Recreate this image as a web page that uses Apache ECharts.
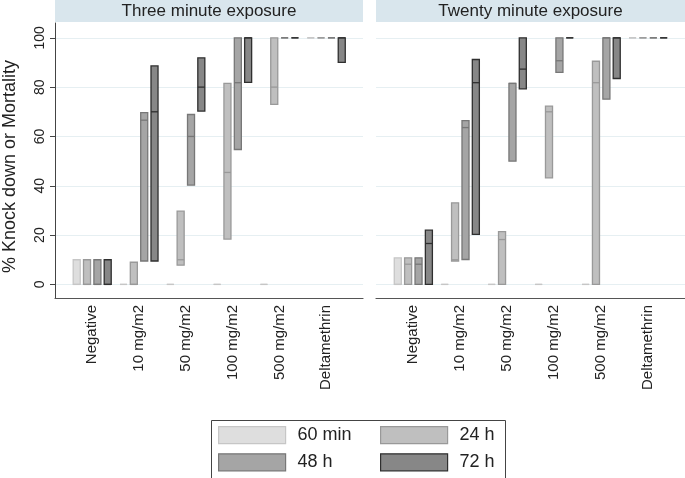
<!DOCTYPE html>
<html>
<head>
<meta charset="utf-8">
<script src="https://cdn.jsdelivr.net/npm/echarts@6/dist/echarts.min.js"></script>
<style>html,body{margin:0;padding:0;background:#fff;}#c{width:685px;height:478px;}</style>
</head>
<body>
<div id="c"></div>
<script>
const categories = ['Negative', '10 mg/m2', '50 mg/m2', '100 mg/m2', '500 mg/m2', 'Deltamethrin'];
const seriesNames = ['60 min', '24 h', '48 h', '72 h'];
const panelTitles = ['Three minute exposure', 'Twenty minute exposure'];
const yTicks = [0, 20, 40, 60, 80, 100];

// Three minute exposure: low / median / high per category
const three_60min_low  = [0, 0, 0, 0, 0, 100];
const three_60min_med  = [0, 0, 0, 0, 0, 100];
const three_60min_high = [10, 0, 0, 0, 0, 100];
const three_24h_low  = [0, 0, 7.8, 18.4, 73, 100];
const three_24h_med  = [0, 0, 10, 45.4, 80, 100];
const three_24h_high = [10, 9, 29.7, 81.5, 100, 100];
const three_48h_low  = [0, 9.5, 40.3, 54.7, 100, 100];
const three_48h_med  = [0, 66.6, 60, 81.8, 100, 100];
const three_48h_high = [10, 69.7, 68.9, 100, 100, 100];
const three_72h_low  = [0, 9.5, 70.3, 81.9, 100, 90];
const three_72h_med  = [0, 70, 80, 100, 100, 100];
const three_72h_high = [10, 88.6, 91.9, 100, 100, 100];

// Twenty minute exposure
const twenty_60min_low  = [0, 0, 0, 0, 0, 100];
const twenty_60min_med  = [0, 0, 0, 0, 0, 100];
const twenty_60min_high = [10.8, 0, 0, 0, 0, 100];
const twenty_24h_low  = [0, 9.5, 0, 43.2, 0, 100];
const twenty_24h_med  = [8.2, 10, 18.2, 70, 81.8, 100];
const twenty_24h_high = [10.8, 33.1, 21.4, 72.3, 90.5, 100];
const twenty_48h_low  = [0, 10.1, 50, 86, 75.1, 100];
const twenty_48h_med  = [8.2, 63.6, 81.5, 90.7, 100, 100];
const twenty_48h_high = [10.8, 66.4, 81.5, 100, 100, 100];
const twenty_72h_low  = [0, 20.3, 79.3, 100, 83.5, 100];
const twenty_72h_med  = [16.6, 81.8, 87.3, 100, 100, 100];
const twenty_72h_high = [22, 91.2, 100, 100, 100, 100];

const panels = [
  [[three_60min_low, three_60min_med, three_60min_high],
   [three_24h_low, three_24h_med, three_24h_high],
   [three_48h_low, three_48h_med, three_48h_high],
   [three_72h_low, three_72h_med, three_72h_high]],
  [[twenty_60min_low, twenty_60min_med, twenty_60min_high],
   [twenty_24h_low, twenty_24h_med, twenty_24h_high],
   [twenty_48h_low, twenty_48h_med, twenty_48h_high],
   [twenty_72h_low, twenty_72h_med, twenty_72h_high]]
];

// styles
const fills   = ['#dedede', '#bfbfbf', '#a5a5a5', '#878787'];
const strokes = ['#c6c6c6', '#999999', '#777777', '#2f2f2f'];
const offsets = [-0.331, -0.111, 0.111, 0.331];
const barW = 0.15;
const FONT = 'Liberation Sans, Arial, sans-serif';

function makeRender(k) {
  return function (params, api) {
    const x = api.value(0) + offsets[k];
    const lo = api.coord([x, api.value(1)]);
    const md = api.coord([x, api.value(2)]);
    const hi = api.coord([x, api.value(3)]);
    const w = api.size([barW, 0])[0];
    return {
      type: 'group',
      children: [
        { type: 'rect', shape: { x: lo[0] - w / 2, y: hi[1], width: w, height: lo[1] - hi[1] },
          style: { fill: fills[k], stroke: strokes[k], lineWidth: 1.3 } },
        { type: 'line', shape: { x1: lo[0] - w / 2, y1: md[1], x2: lo[0] + w / 2, y2: md[1] },
          style: { stroke: strokes[k], lineWidth: 1.3 } }
      ]
    };
  };
}

const series = [];
panels.forEach((panel, p) => {
  panel.forEach((arr, k) => {
    const data = categories.map((c, i) => [i + 1, arr[0][i], arr[1][i], arr[2][i]]);
    series.push({
      type: 'custom', name: seriesNames[k], xAxisIndex: p, yAxisIndex: p,
      renderItem: makeRender(k), data: data,
      encode: { x: 0, y: [1, 3] },
      itemStyle: { color: fills[k], borderColor: strokes[k] },
      silent: true
    });
  });
});

const grids = [
  { left: 55, width: 308, top: 23, height: 275 },
  { left: 376, width: 309, top: 23, height: 275 }
];

const xAxes = grids.map((g, p) => ({
  type: 'value', gridIndex: p, min: 0.205, max: 6.785,
  axisLine: { show: true, onZero: false, lineStyle: { color: '#555', width: 1.2 } },
  axisTick: { show: false },
  splitLine: { show: false },
  axisLabel: {
    customValues: [1, 2, 3, 4, 5, 6],
    formatter: v => categories[Math.round(v) - 1],
    rotate: 90, fontSize: 15, color: '#222', margin: 7, fontFamily: FONT
  }
}));

const yAxes = grids.map((g, p) => ({
  type: 'value', gridIndex: p, min: -5.5, max: 106,
  name: p === 0 ? '% Knock down or Mortality' : '',
  nameLocation: 'middle', nameGap: 36,
  nameTextStyle: { fontSize: 18, color: '#222', fontFamily: FONT, padding: [0, 12, 0, 0] },
  axisLine: { show: p === 0, lineStyle: { color: '#444' } },
  axisTick: { show: p === 0, customValues: yTicks, length: 5, lineStyle: { color: '#444' } },
  axisLabel: { show: p === 0, customValues: yTicks, rotate: 90, fontSize: 14, color: '#222', margin: 8, fontFamily: FONT },
  splitLine: { show: true, lineStyle: { color: '#e6eff2', width: 1 } }
}));

const legendItem = k => ({ name: seriesNames[k], icon: 'rect',
  itemStyle: { color: fills[k], borderColor: strokes[k], borderWidth: 1.2 } });

const legendCommon = {
  orient: 'vertical', top: 426, itemWidth: 67, itemHeight: 17, itemGap: 9, padding: 0,
  selectedMode: false,
  textStyle: { fontSize: 18, color: '#222', fontFamily: FONT, padding: [0, 0, 0, 7] }
};

const option = {
  backgroundColor: '#ffffff',
  animation: false,
  grid: grids,
  xAxis: xAxes,
  yAxis: yAxes,
  series: series,
  legend: [
    Object.assign({}, legendCommon, { left: 218, data: [legendItem(0), legendItem(2)] }),
    Object.assign({}, legendCommon, { left: 380, data: [legendItem(1), legendItem(3)] })
  ],
  graphic: [
    { type: 'rect', left: 209, top: 418, shape: { width: 294, height: 58 },
      style: { fill: 'none', stroke: '#444', lineWidth: 1 }, z: -1 },
    { type: 'rect', left: 55, top: 0, shape: { width: 308, height: 22 }, style: { fill: '#d9e6ed' }, z: -2 },
    { type: 'rect', left: 376, top: 0, shape: { width: 309, height: 22 }, style: { fill: '#d9e6ed' }, z: -2 },
    { type: 'text', x: 209, y: 11, style: { text: panelTitles[0], fontSize: 17, fill: '#222', fontFamily: FONT, align: 'center', verticalAlign: 'middle' } },
    { type: 'text', x: 530.5, y: 11, style: { text: panelTitles[1], fontSize: 17, fill: '#222', fontFamily: FONT, align: 'center', verticalAlign: 'middle' } }
  ]
};

const chart = echarts.init(document.getElementById('c'), null, { renderer: 'canvas' });
chart.setOption(option);
</script>
</body>
</html>
